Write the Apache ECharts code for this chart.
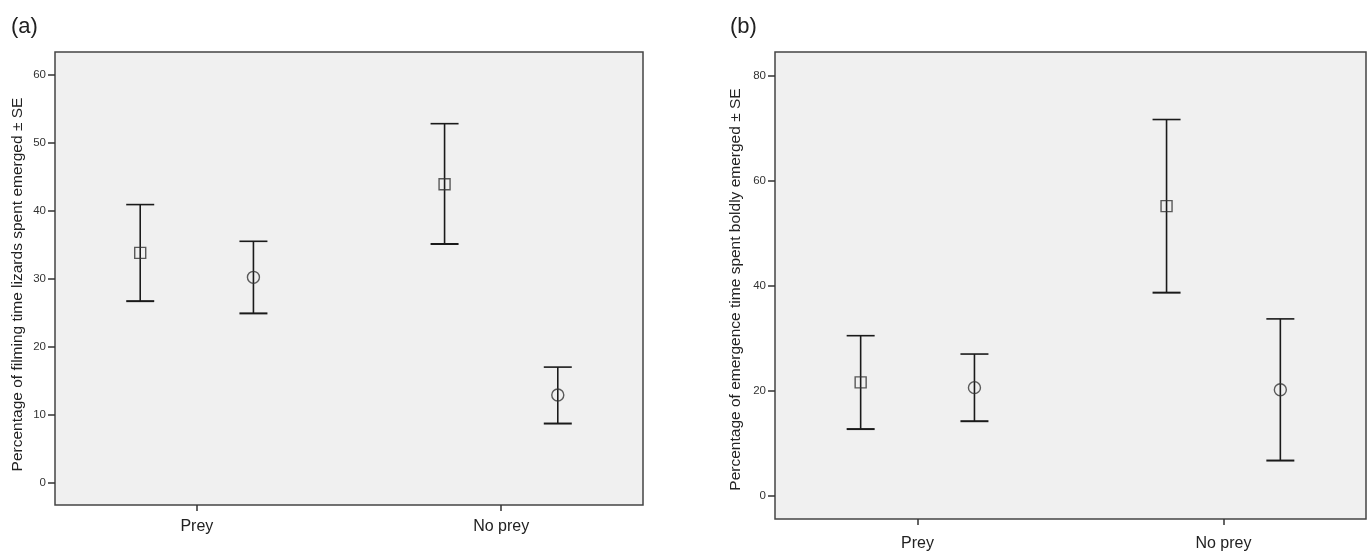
<!DOCTYPE html>
<html>
<head>
<meta charset="utf-8">
<script src="https://cdn.jsdelivr.net/npm/echarts@6/dist/echarts.min.js"></script>
<style>
html,body{margin:0;padding:0;background:#fff;}
#chart{width:1372px;height:552px;}
</style>
</head>
<body>
<div id="chart"></div>
<script>
// ---- data ----
var categories = ['Prey', 'No prey'];
// Panel (a): Percentage of filming time lizards spent emerged
var aSquareMean = [33.8, 43.9];
var aSquareLow  = [26.7, 35.1];
var aSquareHigh = [40.9, 52.8];
var aCircleMean = [30.2, 12.9];
var aCircleLow  = [24.9, 8.7];
var aCircleHigh = [35.5, 17.0];
// Panel (b): Percentage of emergence time spent boldly emerged
var bSquareMean = [21.6, 55.2];
var bSquareLow  = [12.7, 38.7];
var bSquareHigh = [30.5, 71.7];
var bCircleMean = [20.6, 20.2];
var bCircleLow  = [14.2, 6.7];
var bCircleHigh = [27.0, 33.7];
// tick labels
var aYTicks = [0, 10, 20, 30, 40, 50, 60];
var bYTicks = [0, 20, 40, 60, 80];
var xTicks = [1, 2];

var OFFSET = 0.186; // horizontal dodge of the two groups within a category
var LINE = '#1a1a1a';
var FONT = 'Liberation Sans, Arial, sans-serif';

function errData(low, high, sign) {
  return categories.map(function (c, i) { return [i + 1 + sign * OFFSET, low[i], high[i]]; });
}
function ptData(mean, sign) {
  return categories.map(function (c, i) { return [i + 1 + sign * OFFSET, mean[i]]; });
}
function renderErr(params, api) {
  var x = api.value(0);
  var lo = api.coord([x, api.value(1)]);
  var hi = api.coord([x, api.value(2)]);
  var hw = 14;
  var st = { stroke: LINE, lineWidth: 1.6 };
  return {
    type: 'group',
    children: [
      { type: 'line', shape: { x1: hi[0], y1: hi[1], x2: lo[0], y2: lo[1] }, style: st },
      { type: 'line', shape: { x1: hi[0] - hw, y1: hi[1], x2: hi[0] + hw, y2: hi[1] }, style: st },
      { type: 'line', shape: { x1: lo[0] - hw, y1: lo[1], x2: lo[0] + hw, y2: lo[1] }, style: { stroke: LINE, lineWidth: 2 } }
    ]
  };
}

function xAxis(gi) {
  return {
    type: 'value', gridIndex: gi, min: 0.534, max: 2.466,
    splitLine: { show: false },
    axisLine: { show: false, onZero: false },
    axisTick: { show: true, customValues: xTicks, length: 6, lineStyle: { color: '#333', width: 1.5 } },
    axisLabel: {
      customValues: xTicks, color: '#222', fontSize: 16, fontFamily: FONT, margin: gi === 0 ? 14 : 17,
      formatter: function (v) { return categories[Math.round(v) - 1] || ''; }
    }
  };
}
function yAxis(gi, min, max, ticks, name, gap, shift) {
  return {
    type: 'value', gridIndex: gi, min: min, max: max,
    name: name, nameLocation: 'middle', nameGap: gap, nameRotate: 90,
    nameTextStyle: { color: '#222', fontSize: 15.5, fontFamily: FONT, padding: [0, shift, 0, 0] },
    splitLine: { show: false },
    axisLine: { show: false, onZero: false },
    axisTick: { show: true, customValues: ticks, length: 7, lineStyle: { color: '#333', width: 1.5 } },
    axisLabel: { customValues: ticks, color: '#333', fontSize: 11.5, fontFamily: FONT, margin: 9 }
  };
}

var chart = echarts.init(document.getElementById('chart'));
chart.setOption({
  backgroundColor: '#ffffff',
  animation: false,
  title: [
    { text: '(a)', left: 6, top: 11, textStyle: { fontSize: 22, fontWeight: 'normal', color: '#222', fontFamily: FONT } },
    { text: '(b)', left: 725, top: 11, textStyle: { fontSize: 22, fontWeight: 'normal', color: '#222', fontFamily: FONT } }
  ],
  grid: [
    { left: 55, top: 52, width: 588, height: 453, show: true, backgroundColor: '#f0f0f0', borderColor: '#444', borderWidth: 1.5 },
    { left: 775, top: 52, width: 591, height: 467, show: true, backgroundColor: '#f0f0f0', borderColor: '#444', borderWidth: 1.5 }
  ],
  xAxis: [xAxis(0), xAxis(1)],
  yAxis: [
    yAxis(0, -3.28, 63.34, aYTicks, 'Percentage of filming time lizards spent emerged \u00b1 SE', 29, 12),
    yAxis(1, -4.44, 84.57, bYTicks, 'Percentage of emergence time spent boldly emerged \u00b1 SE', 31, 8)
  ],
  series: [
    { type: 'custom', xAxisIndex: 0, yAxisIndex: 0, renderItem: renderErr, data: errData(aSquareLow, aSquareHigh, -1), z: 2 },
    { type: 'custom', xAxisIndex: 0, yAxisIndex: 0, renderItem: renderErr, data: errData(aCircleLow, aCircleHigh, 1), z: 2 },
    { type: 'custom', xAxisIndex: 1, yAxisIndex: 1, renderItem: renderErr, data: errData(bSquareLow, bSquareHigh, -1), z: 2 },
    { type: 'custom', xAxisIndex: 1, yAxisIndex: 1, renderItem: renderErr, data: errData(bCircleLow, bCircleHigh, 1), z: 2 },
    { type: 'scatter', xAxisIndex: 0, yAxisIndex: 0, symbol: 'rect', symbolSize: 11, data: ptData(aSquareMean, -1), itemStyle: { color: 'rgba(240,240,240,0)', borderColor: '#333', borderWidth: 1.4 }, z: 3 },
    { type: 'scatter', xAxisIndex: 0, yAxisIndex: 0, symbol: 'circle', symbolSize: 12, data: ptData(aCircleMean, 1), itemStyle: { color: 'rgba(240,240,240,0)', borderColor: '#333', borderWidth: 1.4 }, z: 3 },
    { type: 'scatter', xAxisIndex: 1, yAxisIndex: 1, symbol: 'rect', symbolSize: 11, data: ptData(bSquareMean, -1), itemStyle: { color: 'rgba(240,240,240,0)', borderColor: '#333', borderWidth: 1.4 }, z: 3 },
    { type: 'scatter', xAxisIndex: 1, yAxisIndex: 1, symbol: 'circle', symbolSize: 12, data: ptData(bCircleMean, 1), itemStyle: { color: 'rgba(240,240,240,0)', borderColor: '#333', borderWidth: 1.4 }, z: 3 }
  ]
});
</script>
</body>
</html>
